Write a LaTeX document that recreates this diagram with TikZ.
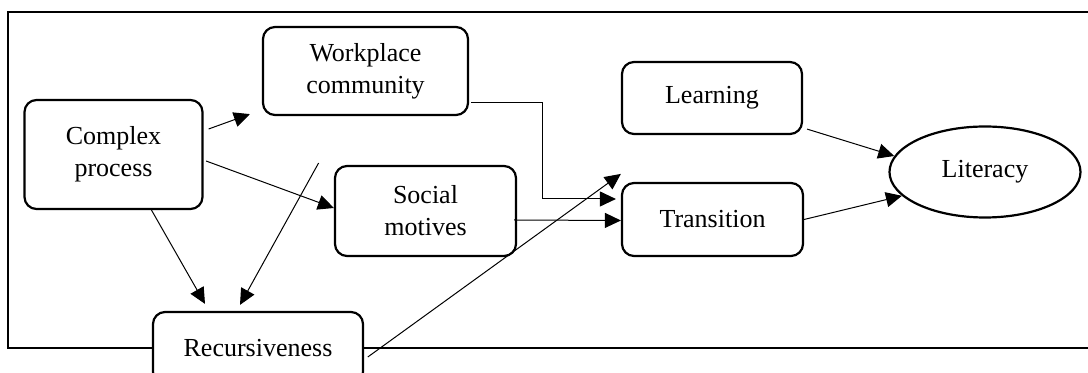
\documentclass[tikz,border=0pt]{standalone}
\usepackage{fontspec}
\setmainfont{Liberation Serif}
\usetikzlibrary{shapes.geometric}
\usetikzlibrary{arrows.meta}
\tikzstyle{Box}=[draw,rounded corners=6pt,line width=1.1pt,fill=white,
inner sep=0pt,align=center,font=\fontsize{13}{16}\selectfont]
\tikzstyle{Oval}=[ellipse,draw,line width=1.1pt,fill=white,inner sep=0pt,
font=\fontsize{13}{16}\selectfont]
\tikzstyle{Edge}=[line width=0.5pt,-{Triangle[length=8pt,width=7.5pt]}]
\tikzstyle{Frame}=[line width=1.1pt]

\begin{document}
\begin{tikzpicture}[x=0.5pt,y=-0.5pt]
        \clip(0,0)rectangle(1088,373);
        \draw[Frame](1100,12)--(8,12)--(8,348)--(1100,348);
        \node[Box,minimum width=89pt,minimum height=54.5pt](cp)at(113.50,154.50){Complex\\process};
        \node[Box,minimum width=102.5pt,minimum height=44pt](wc)at(365.50,71.00){Workplace\\community};
        \node[Box,minimum width=90.5pt,minimum height=45pt](sm)at(425.50,211.00){Social\\motives};
        \node[Box,minimum width=105pt,minimum height=36pt](rc)at(258.00,348.00){Recursiveness};
        \node[Box,minimum width=90pt,minimum height=36pt](lr)at(712.00,98.00){Learning};
        \node[Box,minimum width=90.5pt,minimum height=36.5pt](tr)at(712.50,219.50){Transition};
        \node[Oval,minimum width=95.5pt,minimum height=45.5pt](lit)at(985.00,172.00){Literacy};
        \coordinate(f)at(318.60,163.00);
        \draw[Edge]([xshift=2.5pt,yshift=12.75pt]cp.east)--([xshift=-6pt,yshift=1pt]wc.south west);
        \draw[Edge]([xshift=1.25pt,yshift=-3.25pt]cp.east)--([yshift=1.5pt]sm.west);
        \draw[Edge]([xshift=19pt]cp.south)--([xshift=-26.5pt,yshift=3.5pt]rc.north);
        \draw[Edge](f)--([xshift=-9pt,yshift=3pt]rc.north);
        \draw[Edge]([xshift=1pt,yshift=-16pt]wc.east)-|([xshift=-39pt,yshift=10.25pt]tr.west)
            --([xshift=-2.5pt,yshift=10.25pt]tr.west);
        \draw[Edge]([xshift=-1.5pt,yshift=-4.5pt]sm.east)--([yshift=-0.5pt]tr.west);
        \draw[Edge]([xshift=1.85pt,yshift=-4.5pt]rc.east)--([yshift=4pt]tr.north west);
        \draw[Edge]([xshift=2pt,yshift=3pt]lr.south east)--(lit.170);
        \draw[Edge](tr.east)--(lit.196);
    \end{tikzpicture}
\end{document}
